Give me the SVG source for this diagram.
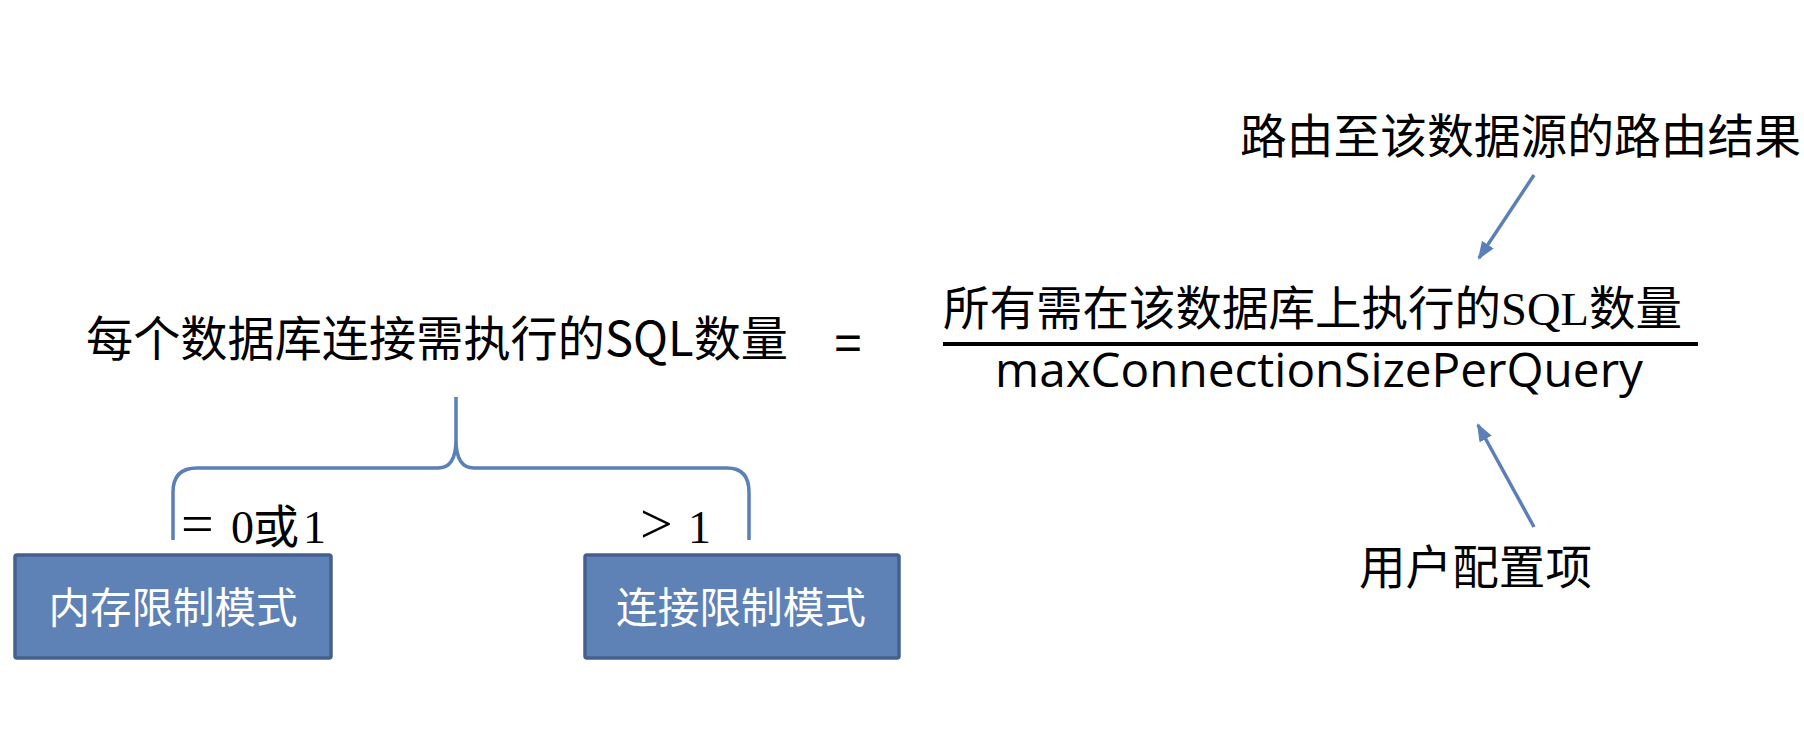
<svg xmlns="http://www.w3.org/2000/svg" width="1804" height="750" viewBox="0 0 1804 750">
<style>
.cjk{font-family:"Noto Sans CJK SC","Noto Sans",sans-serif;fill:#000;}
.lbl{font-family:"Liberation Serif","Noto Sans CJK SC",serif;fill:#000;font-size:46px;}
.op{font-size:58px;}
.box{fill:#5f82b6;stroke:#44608e;stroke-width:3.5;}
.boxt{font-family:"Noto Sans CJK SC",sans-serif;fill:#fff;font-size:42px;text-anchor:middle;}
.conn{fill:none;stroke:#5b80b8;stroke-width:3.5;}
</style>
<defs>
<marker id="ah" markerUnits="userSpaceOnUse" markerWidth="20" markerHeight="16" refX="16" refY="8" orient="auto">
<path d="M0,1 L18,8 L0,15 z" fill="#5b80b8"/>
</marker>
</defs>
<rect width="1804" height="750" fill="#fff"/>
<g id="lhs">
<text class="cjk" x="86" y="356" font-size="48" textLength="702" lengthAdjust="spacingAndGlyphs">每个数据库连接需执行的SQL数量</text>
</g>
<g id="equals">
<text x="848" y="359" font-family="Liberation Sans,sans-serif" font-size="48" text-anchor="middle">=</text>
</g>
<g id="fraction">
<text class="cjk" x="943" y="325" font-size="47" textLength="739" lengthAdjust="spacingAndGlyphs">所有需在该数据库上执行的<tspan font-family="Liberation Serif,serif">SQL</tspan>数量</text>
<line x1="943" y1="344" x2="1698" y2="344" stroke="#000" stroke-width="4"/>
<text x="995" y="387" font-family="Open Sans,sans-serif" font-size="47" textLength="648" lengthAdjust="spacingAndGlyphs">maxConnectionSizePerQuery</text>
</g>
<g id="route">
<text class="cjk" x="1240" y="153" font-size="47" textLength="561" lengthAdjust="spacingAndGlyphs">路由至该数据源的路由结果</text>
</g>
<g id="config">
<text class="cjk" x="1359" y="584" font-size="47" textLength="233" lengthAdjust="spacingAndGlyphs">用户配置项</text>
</g>
<g id="label-eq">
<text class="lbl" y="543"><tspan class="op" x="181">=</tspan><tspan x="213"> </tspan><tspan x="231">0</tspan><tspan x="253">或</tspan><tspan x="303">1</tspan></text>
</g>
<g id="label-gt">
<text class="lbl" y="543"><tspan class="op" x="640">&gt;</tspan><tspan x="672"> </tspan><tspan x="688">1</tspan></text>
</g>
<g id="mem-mode">
<rect class="box" x="15" y="555" width="316" height="103" rx="2"/>
<text class="boxt" x="173" y="623" textLength="249" lengthAdjust="spacingAndGlyphs">内存限制模式</text>
</g>
<g id="conn-mode">
<rect class="box" x="585" y="555" width="314" height="103" rx="2"/>
<text class="boxt" x="741" y="623" textLength="250" lengthAdjust="spacingAndGlyphs">连接限制模式</text>
</g>
<g id="connectors">
<path class="conn" d="M173,540 L173,492 Q173,468 197,468 L438,468 Q456,468 456,440 L456,397 M456,440 Q456,468 474,468 L727,468 Q749,468 749,492 L749,540"/>
<line class="conn" x1="1534" y1="175" x2="1479" y2="258" marker-end="url(#ah)"/>
<line class="conn" x1="1534" y1="527" x2="1478" y2="425" marker-end="url(#ah)"/>
</g>
</svg>
